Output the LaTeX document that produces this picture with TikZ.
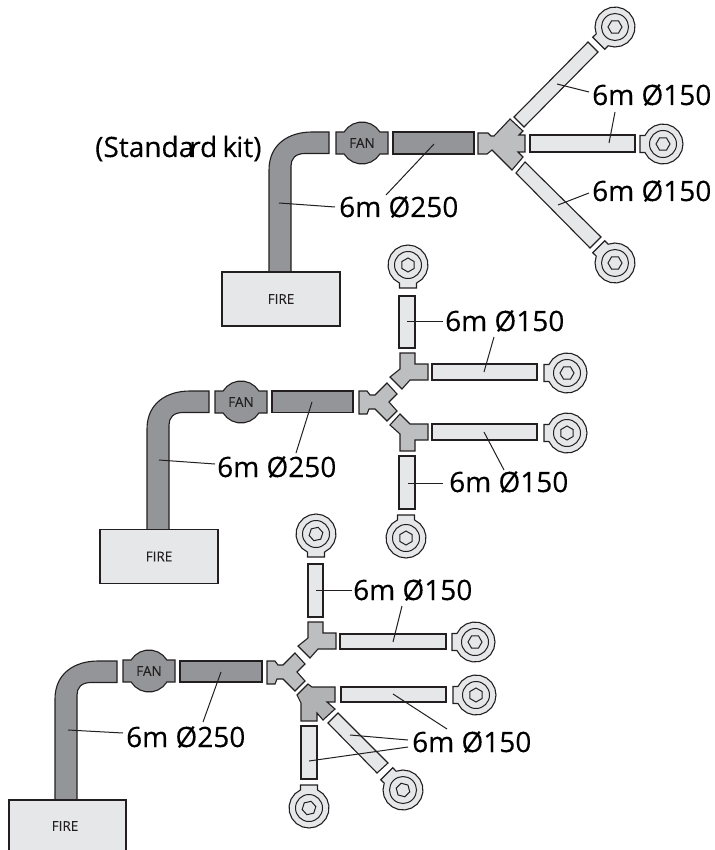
\documentclass[tikz,border=0pt]{standalone}
\usepackage{fontspec}
\setmainfont{Open Sans}
\newfontfamily\labelfont[FakeBold=0.2]{Open Sans}
\definecolor{ink}{HTML}{231F20}
\definecolor{darkduct}{HTML}{939598}
\definecolor{midduct}{HTML}{BCBEC0}
\definecolor{tonemid}{HTML}{B0B2B4}
\definecolor{lightduct}{HTML}{E6E7E8}
\tikzset{
  part/.style={draw=ink,line width=1.1pt,line join=miter},
  darkpipe/.style={part,fill=darkduct},
  midpart/.style={part,fill=midduct},
  lightpipe/.style={part,fill=lightduct},
  leader/.style={draw=ink,line width=1pt},
  dim/.style={text=black,font=\labelfont\fontsize{28}{30}\selectfont,anchor=base west,inner sep=0pt},
  small/.style={text=ink,font=\labelfont\fontsize{13.5}{15}\selectfont,inner sep=0pt},
  firebox/.style={part,fill=lightduct,minimum width=118pt,minimum height=54pt,inner sep=0pt,text=ink,font=\labelfont\fontsize{13.5}{15}\selectfont},
  terminal/.pic={
    \path[lightpipe] (-23,-8.5) -- plot[domain=205:515,samples=17] (\x:20) -- (-23,8.5) -- cycle;
    \draw[draw=ink,line width=1pt] (0,0) circle[radius=13.5];
    \draw[draw=ink,line width=1pt] plot[domain=#1:#1+360,samples=7] (\x:7) -- cycle;
  },
  pics/fan/.style={code={
    \path[darkpipe] (-26,-11) -- plot[domain=211.6:328.4,samples=8] (\x:21) -- (26,-11) -- (26,11)
      -- plot[domain=31.6:148.4,samples=8] (\x:21) -- (-26,11) -- cycle;
    \node[small] (-label) at (0,0) {FAN};
  }},
  pics/yjoint/.style={code={
    \path[midpart] (359,391) -- (367,391) -- (370,395) -- (375,395) -- (387,383) -- (397,394) -- (389,402)
      -- (397,411) -- (387,421) -- (375,409) -- (369,409) -- (367,414) -- (359,414) -- cycle;
  }},
  pics/uppertee/.style={code={
    \path[midpart] (400,353) -- (415,353) -- (415,364) -- (428,364) -- (428,380) -- (410,380)
      -- (402,389) -- (390,377) -- (400,369) -- cycle;
  }},
}
\newcommand{\elbowduct}[4]{%
  \begin{scope}[shift={(#1,#2)}]
    \path[darkpipe] (#3,0) -- (43,0) .. controls (20,0) and (0,12) .. (0,38) -- (0,#4) -- (22,#4) -- (22,34)
      .. controls (22,27) and (26,21.5) .. (36,21.5) -- (#3,21.5) -- cycle;
  \end{scope}}
\begin{document}
\begin{tikzpicture}[x=1pt,y=-1pt]
\useasboundingbox (0,0) rectangle (714,850);

% ---------- kit 1
\elbowduct{269}{132}{60}{140}
\node[firebox] (fire1) at (281,299) {FIRE};
\pic (fan1) at (362,143) {fan};
\path[darkpipe] (393,132) rectangle (474,154);
\path[midpart] (478,133) -- (488,133) -- (491,136) -- (494,136) -- (510,119) -- (523,131) -- (519,135)
  -- (525,135) -- (525,152) -- (518,152) -- (523,157) -- (512,170) -- (492,150) -- (487,154) -- (478,154) -- cycle;
\path[lightpipe] (588,42) -- (598,52) -- (524,127) -- (514,117) -- cycle;
\path[lightpipe] (530,135) rectangle (635,152);
\path[lightpipe] (525,162) -- (601,237) -- (590,248) -- (516,173) -- cycle;
\pic[rotate=45] at (615,27) {terminal=45};
\pic at (663,144) {terminal=0};
\pic[rotate=-45] at (615,263) {terminal=15};

\node[dim] (t1a) at (95,157) {(Standa\kern-5pt rd\kern-2pt\ k\kern-1pt it)};
\node[dim] (t1b) at (339,217) {6m Ø250};
\node[dim] (t1c) at (592,105) {6m Ø150};
\node[dim] (t1d) at (592,201) {6m Ø150};
\coordinate (a1) at (279,203); \coordinate (b1) at (335,207);
\coordinate (a2) at (434,144); \coordinate (b2) at (386,195);
\coordinate (a3) at (557,84);  \coordinate (b3) at (589,92);
\coordinate (a4) at (609,143); \coordinate (b4) at (615,112);
\coordinate (a5) at (558,205); \coordinate (b5) at (589,193);
\foreach \n in {1,...,5} \draw[leader] (a\n) -- (b\n);

% ---------- kit 2
\elbowduct{147}{391}{62}{139}
\node[firebox] (fire2) at (159,556.5) {FIRE};
\pic (fan2) at (241,402) {fan};
\path[darkpipe] (272,391) rectangle (353,412.5);
\pic {yjoint};
\pic {uppertee};
\path[midpart] (390,425) -- (400,414) -- (410,424) -- (428,424) -- (428,440) -- (415,440) -- (415,451)
  -- (400,451) -- (400,434) -- cycle;
\path[lightpipe] (399,296) rectangle (415,348);
\path[lightpipe] (432,364) rectangle (537,380);
\path[lightpipe] (432,424) rectangle (537,440);
\path[lightpipe] (399,456) rectangle (415,509);
\pic[rotate=90] at (408,265) {terminal=0};
\pic at (567,373) {terminal=0};
\pic at (567,433) {terminal=30};
\pic[rotate=-90] at (406,538) {terminal=0};

\node[dim] (t2a) at (445,331) {6m Ø150};
\node[dim] (t2b) at (217,477) {6m Ø250};
\node[dim] (t2c) at (449,492) {6m Ø150};
\coordinate (c1) at (407,321); \coordinate (d1) at (443,321);
\coordinate (c2) at (484,372); \coordinate (d2) at (494,337);
\coordinate (c3) at (484,432); \coordinate (d3) at (504,470);
\coordinate (c4) at (408,483); \coordinate (d4) at (443,483);
\coordinate (c5) at (312,402); \coordinate (d5) at (296,453);
\coordinate (c6) at (159,460); \coordinate (d6) at (215,464);
\foreach \n in {1,...,6} \draw[leader] (c\n) -- (d\n);

% ---------- kit 3
\elbowduct{55}{661}{62}{139}
\path[part,fill=lightduct] (9,850) -- (9,800) -- (126,800) -- (126,850);
\node[small] (fire3) at (65,826) {FIRE};
\pic (fan3) at (149,671) {fan};
\path[darkpipe] (180,661) rectangle (262,682);
\begin{scope}[shift={(-92,270)}]
  \pic {yjoint};
\end{scope}
\begin{scope}[shift={(-92,269)}]
  \pic {uppertee};
\end{scope}
\path[part,fill=tonemid] (308,684) -- (312,687) -- (335,687) -- (335,702) -- (327,702) -- (335,709) -- (323,720)
  -- (317,713) -- (317,721) -- (301,721) -- (301,703) -- (297,695) -- cycle;
\path[lightpipe] (308,564) rectangle (323,617);
\path[lightpipe] (340,634) rectangle (446,649);
\path[lightpipe] (341,687) rectangle (446,702);
\path[lightpipe] (338,713) -- (388,763) -- (377,773) -- (328,723) -- cycle;
\path[lightpipe] (301,726) rectangle (317,779);
\pic[rotate=90] at (316,534) {terminal=18};
\pic at (475,642) {terminal=0};
\pic at (476,695) {terminal=30};
\pic[rotate=-45] at (403,790) {terminal=30};
\pic[rotate=-90] at (309,808) {terminal=18};

\node[dim] (t3a) at (353,600) {6m Ø150};
\node[dim] (t3b) at (126,747) {6m Ø250};
\node[dim] (t3c) at (412,752) {6m Ø150};
\coordinate (e1) at (316,590); \coordinate (f1) at (352,590);
\coordinate (e2) at (393,642); \coordinate (f2) at (402,606);
\coordinate (e3) at (393,694); \coordinate (f3) at (447,729);
\coordinate (e4) at (350,735); \coordinate (f4) at (408,740);
\coordinate (e5) at (309,761); \coordinate (f5) at (408,747);
\coordinate (e6) at (221,672); \coordinate (f6) at (203,722);
\coordinate (e7) at (68,730);  \coordinate (f7) at (123,733);
\foreach \n in {1,...,7} \draw[leader] (e\n) -- (f\n);
\end{tikzpicture}
\end{document}
